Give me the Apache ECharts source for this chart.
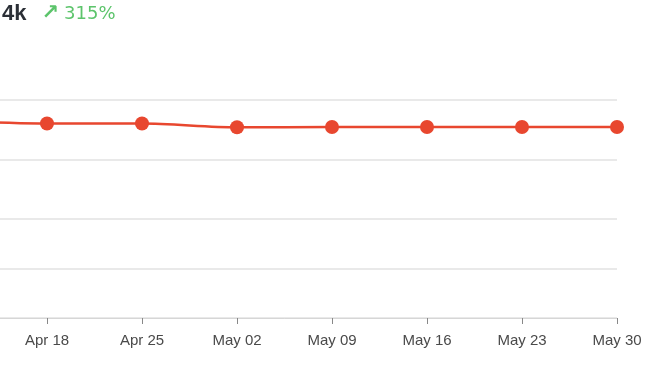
<!DOCTYPE html>
<html>
<head>
    <meta charset="utf-8">
    <title>Weekly trend</title>
    <style>
        html, body { margin: 0; padding: 0; background: #fff; overflow: hidden; }
        #wrap { position: relative; width: 668px; height: 376px; overflow: hidden; }
        #main { position: absolute; left: -100px; top: 0; width: 768px; height: 376px; }
    </style>
    <script src="https://cdn.jsdelivr.net/npm/echarts@6/dist/echarts.min.js"></script>
</head>
<body>
<div id="wrap"><div id="main"></div></div>
<script>
    var weeks = ['Apr 11', 'Apr 18', 'Apr 25', 'May 02', 'May 09', 'May 16', 'May 23', 'May 30'];
    var values = [3975, 3925, 3925, 3850, 3855, 3855, 3855, 3855];
    var gridValues = [0, 1000, 2000, 3200, 4400];
    var headline = '4k';
    var change = '315%';

    var chart = echarts.init(document.getElementById('main'));
    chart.setOption({
        animation: false,
        title: {
            left: 97,
            top: -2,
            text: '{a|' + headline + '}   {c|\u2197} {b|' + change + '}',
            textStyle: {
                rich: {
                    a: { fontFamily: 'Liberation Sans', fontSize: 22, fontWeight: 'bold', color: '#2b2f36' },
                    c: { fontFamily: 'DejaVu Sans', fontSize: 21, fontWeight: 'bold', color: '#5cc46b' },
                    b: { fontFamily: 'DejaVu Sans', fontSize: 18, fontWeight: 'normal', color: '#5cc46b' }
                }
            }
        },
        grid: {
            left: 52,
            right: 51,
            top: 100,
            bottom: 58
        },
        xAxis: {
            type: 'category',
            data: weeks,
            boundaryGap: false,
            axisLine: { lineStyle: { color: '#d6d6d6', width: 1 } },
            axisTick: { alignWithLabel: true, length: 6, lineStyle: { color: '#888' } },
            axisLabel: {
                margin: 15,
                color: '#4a4a4a',
                fontSize: 15,
                fontFamily: 'Liberation Sans'
            }
        },
        yAxis: {
            type: 'value',
            min: 0,
            max: 4400,
            axisLine: { show: false },
            axisTick: { show: false, customValues: gridValues },
            axisLabel: { show: false },
            splitLine: { lineStyle: { color: '#e2e2e2', width: 1.5 } }
        },
        series: [
            {
                type: 'line',
                data: values,
                smooth: 0.3,
                symbol: 'circle',
                symbolSize: 14,
                itemStyle: { color: '#e8472f' },
                lineStyle: { color: '#e8472f', width: 2.5 }
            }
        ]
    });
</script>
</body>
</html>
